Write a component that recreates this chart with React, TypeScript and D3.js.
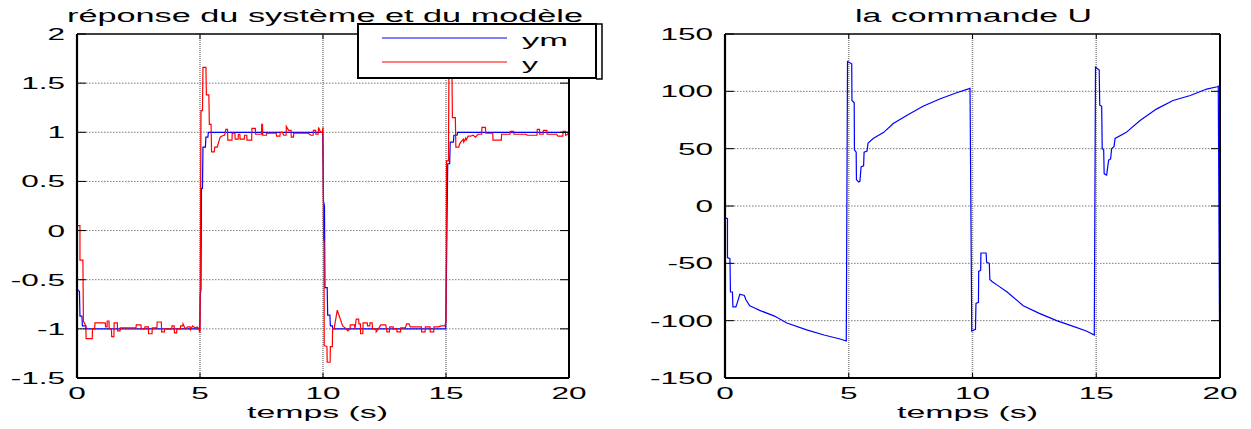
import { useEffect, useRef } from 'react'
import * as d3 from 'd3'

const W = 1251
const H = 429

const xTicks = [0, 5, 10, 15, 20]
const xTickLabels = ['0', '5', '10', '15', '20']
const respTicks = [2, 1.5, 1, 0.5, 0, -0.5, -1, -1.5]
const respTickLabels = ['2', '1.5', '1', '0.5', '0', '-0.5', '-1', '-1.5']
const cmdTicks = [150, 100, 50, 0, -50, -100, -150]
const cmdTickLabels = ['150', '100', '50', '0', '-50', '-100', '-150']
const legendLabels = ['ym', 'y']

// model output ym (t, value)
const ymData: [number, number][] = [
  [0, 0], [0.01, -0.6], [0.1, -0.62], [0.12, -0.87], [0.2, -0.87], [0.22, -0.97], [0.35, -0.97], [0.37, -1],
  [4.99, -1], [5.01, -0.65], [5.04, -0.6], [5.06, 0.43], [5.1, 0.43], [5.12, 0.85], [5.22, 0.85], [5.24, 0.95],
  [5.32, 0.95], [5.34, 1], [9.99, 1], [10.02, 0.3], [10.06, 0.25], [10.08, -0.58], [10.17, -0.58], [10.19, -0.86],
  [10.28, -0.86], [10.3, -0.97], [10.38, -0.97], [10.4, -1], [14.99, -1], [15.01, -0.6], [15.04, 0.05],
  [15.07, 0.68], [15.15, 0.68], [15.17, 0.9], [15.3, 0.9], [15.32, 0.97], [15.45, 0.97], [15.47, 1], [20, 1]
]

// system output y (t, value)
const yData: [number, number][] = [
  [0, 0.05], [0.12, 0.05], [0.12, -0.3], [0.24, -0.3], [0.26, -0.92], [0.36, -0.97], [0.37, -1.1], [0.62, -1.1],
  [0.63, -1.0], [0.72, -1.0], [0.73, -0.94], [1.15, -0.94], [1.16, -0.98], [1.22, -0.98], [1.23, -0.92], [1.3, -0.92],
  [1.31, -1.0], [1.4, -1.0], [1.41, -1.08], [1.5, -1.08], [1.51, -0.94], [1.64, -0.94], [1.65, -1.02], [1.75, -1.02],
  [1.76, -0.99], [2.4, -0.99], [2.41, -0.96], [2.6, -0.96], [2.61, -1.0], [2.75, -1.0], [2.76, -0.98], [2.9, -0.98],
  [2.91, -1.05], [3.05, -1.05], [3.06, -0.99], [3.25, -0.99], [3.26, -0.93], [3.43, -0.93], [3.44, -1.03], [3.55, -1.03],
  [3.56, -1.0], [3.85, -1.0], [3.86, -0.97], [3.95, -0.97], [3.96, -1.04], [4.05, -1.04], [4.06, -1.0], [4.2, -1.0],
  [4.21, -0.97], [4.3, -0.97], [4.31, -0.95], [4.4, -1.0], [4.5, -0.98], [4.6, -0.98], [4.61, -1.01], [4.7, -0.97],
  [4.8, -0.99], [4.9, -0.98], [4.95, -1.0], [5.0, -1.04],
  [5.02, 0.0], [5.04, 1.22], [5.1, 1.22], [5.12, 1.66], [5.24, 1.66], [5.26, 1.38], [5.36, 1.38], [5.38, 1.08],
  [5.45, 1.08], [5.47, 0.8], [5.58, 0.8], [5.6, 0.85], [5.7, 0.85], [5.82, 0.95], [5.95, 0.97], [6.0, 0.97],
  [6.05, 1.03], [6.12, 1.03], [6.13, 0.92], [6.3, 0.92], [6.31, 0.99], [6.42, 0.99], [6.43, 0.93], [6.55, 0.93],
  [6.56, 0.98], [6.62, 0.98], [6.63, 0.93], [6.8, 0.93], [6.81, 0.97], [6.9, 0.97], [6.91, 0.92], [7.1, 0.92],
  [7.11, 1.04], [7.25, 1.04], [7.26, 0.98], [7.5, 0.98], [7.51, 1.08], [7.54, 1.08], [7.55, 0.97], [7.7, 0.97],
  [7.71, 0.99], [8.1, 0.99], [8.11, 0.96], [8.25, 0.96], [8.26, 1.0], [8.35, 1.0], [8.4, 0.97], [8.5, 0.97],
  [8.51, 1.06], [8.6, 1.02], [8.7, 1.02], [8.71, 0.95], [8.8, 0.95], [8.81, 0.99], [9.4, 0.99], [9.5, 0.97],
  [9.6, 0.97], [9.61, 1.02], [9.7, 1.02], [9.71, 0.98], [9.8, 0.98], [9.82, 1.05], [9.9, 1.0], [9.97, 1.0], [10.0, 1.05],
  [10.02, -0.08], [10.04, -0.12], [10.05, -1.17], [10.16, -1.18], [10.17, -1.34], [10.29, -1.34], [10.3, -1.18],
  [10.38, -1.18], [10.39, -1.0], [10.45, -1.0], [10.58, -0.81], [10.8, -0.97], [10.95, -1.0], [11.0, -1.02],
  [11.1, -1.0], [11.11, -0.96], [11.28, -0.96], [11.3, -1.0], [11.35, -0.9], [11.45, -0.9], [11.46, -0.95],
  [11.52, -0.95], [11.53, -1.05], [11.62, -1.05], [11.63, -0.94], [11.8, -0.94], [11.81, -0.97], [11.9, -0.97],
  [11.91, -0.94], [12.0, -0.94], [12.01, -1.0], [12.15, -1.0], [12.16, -1.03], [12.25, -1.0], [12.35, -0.96],
  [12.55, -0.96], [12.6, -1.03], [12.7, -1.03], [12.71, -0.98], [12.85, -0.98], [12.86, -1.0], [13.0, -1.0],
  [13.01, -1.03], [13.15, -1.03], [13.16, -0.99], [13.35, -0.99], [13.4, -0.95], [13.5, -0.95], [13.55, -0.98],
  [14.0, -0.98], [14.01, -1.03], [14.15, -1.03], [14.16, -0.98], [14.35, -0.98], [14.36, -1.03], [14.5, -1.03],
  [14.51, -0.98], [14.7, -0.98], [14.8, -0.97], [14.95, -0.97], [15.0, -0.93],
  [15.02, 0.71], [15.1, 0.71], [15.12, 1.66], [15.24, 1.66], [15.26, 1.15], [15.38, 1.15], [15.4, 0.85],
  [15.52, 0.85], [15.55, 0.88], [15.6, 0.9], [15.7, 0.93], [15.72, 0.9], [15.8, 0.94], [15.82, 0.92], [15.9, 0.96],
  [16.0, 0.96], [16.1, 0.97], [16.2, 0.95], [16.3, 0.98], [16.45, 0.98], [16.46, 1.05], [16.6, 1.05], [16.62, 0.99],
  [16.9, 0.99], [16.91, 0.92], [17.25, 0.92], [17.26, 0.98], [17.6, 0.98], [17.61, 1.01], [17.75, 1.01],
  [17.76, 0.98], [18.25, 0.98], [18.3, 0.97], [18.7, 0.97], [18.71, 1.03], [18.8, 1.03], [18.81, 0.98],
  [18.95, 0.98], [18.96, 1.02], [19.1, 1.02], [19.11, 0.98], [19.5, 0.98], [19.55, 0.96], [19.75, 0.96],
  [19.76, 1.01], [19.85, 1.01], [19.86, 0.97], [19.95, 0.98], [20, 1.02]
]

// control signal U (t, value)
const uData: [number, number][] = [
  [0, -10], [0.1, -11], [0.1, -45], [0.2, -46], [0.22, -75], [0.3, -75], [0.32, -88], [0.44, -88], [0.5, -84],
  [0.6, -77], [0.78, -78], [0.85, -82], [1.0, -87], [1.2, -89], [1.4, -91], [2.0, -96], [2.5, -102], [3.3, -108],
  [4.0, -112.5], [4.65, -116], [4.9, -117.7],
  [4.95, 126], [5.12, 124], [5.13, 92], [5.22, 90], [5.23, 49], [5.3, 47], [5.31, 23], [5.4, 21], [5.45, 21.5],
  [5.5, 34], [5.6, 35], [5.62, 47], [5.74, 48], [5.78, 55], [6.0, 59], [6.4, 64], [6.8, 72], [7.34, 79], [8.0, 87],
  [8.7, 93.5], [9.36, 98.8], [9.9, 102.6],
  [9.97, -109], [10.12, -107.5], [10.14, -85], [10.24, -84], [10.25, -57], [10.33, -56], [10.34, -41], [10.55, -41],
  [10.57, -49], [10.68, -50], [10.7, -64], [10.8, -66], [11.0, -69], [11.4, -75], [12.05, -87], [12.7, -93.6],
  [13.4, -100], [14.1, -105.2], [14.6, -109], [14.92, -112.5],
  [14.97, 121], [15.12, 118.5], [15.14, 88], [15.22, 87], [15.24, 50], [15.3, 49], [15.32, 28], [15.42, 27],
  [15.5, 40], [15.58, 41], [15.62, 50], [15.72, 52], [15.76, 59], [16.2, 64], [16.77, 74.5], [17.43, 84.5],
  [18.1, 92], [18.8, 96.4], [19.46, 102], [19.89, 104], [19.93, 104.5], [19.98, -101], [20, -100]
]

const FONT = 'Liberation Sans, Arial, Helvetica, sans-serif'
const STRETCH = 1.97

export default function App() {
  const ref = useRef<SVGSVGElement>(null)

  useEffect(() => {
    draw()
  }, [])

  const draw = () => {
    const svg = d3.select(ref.current)
    svg.selectAll('*').remove()

    const panel = (o: {
      left: number, right: number, top: number, bottom: number,
      yDomain: [number, number], yTicks: number[], yLabels: string[],
      series: { data: [number, number][], color: string }[],
      title: string, titleX: number, titleW: number, xlabelX: number
    }) => {
      const x = d3.scaleLinear().domain([0, 20]).range([o.left, o.right])
      const y = d3.scaleLinear().domain(o.yDomain).range([o.bottom, o.top])
      const g = svg.append('g')

      // grid
      g.selectAll('.hgrid')
        .data(o.yTicks.filter(v => v !== o.yDomain[0] && v !== o.yDomain[1]))
        .join('line')
        .attr('x1', o.left).attr('x2', o.right)
        .attr('y1', d => y(d)).attr('y2', d => y(d))
        .attr('stroke', '#7a7a7a').attr('stroke-width', 1).attr('stroke-dasharray', '1.5,1.5')
      g.selectAll('.vgrid')
        .data(xTicks.filter(v => v !== 0 && v !== 20))
        .join('line')
        .attr('y1', o.top).attr('y2', o.bottom)
        .attr('x1', d => x(d)).attr('x2', d => x(d))
        .attr('stroke', '#8c8c8c').attr('stroke-width', 1.6).attr('stroke-dasharray', '1,1')

      // lines
      const line = d3.line<[number, number]>().x(d => x(d[0])).y(d => y(d[1]))
      o.series.forEach(s => {
        g.append('path').attr('d', line(s.data)).attr('fill', 'none')
          .attr('stroke', s.color).attr('stroke-width', 1.2)
      })

      // axes box
      g.append('line').attr('x1', o.left).attr('x2', o.right).attr('y1', o.top).attr('y2', o.top)
        .attr('stroke', '#000').attr('stroke-width', 1.5)
      g.append('line').attr('x1', o.left).attr('x2', o.right).attr('y1', o.bottom).attr('y2', o.bottom)
        .attr('stroke', '#000').attr('stroke-width', 2)
      g.append('line').attr('x1', o.left).attr('x2', o.left).attr('y1', o.top).attr('y2', o.bottom)
        .attr('stroke', '#000').attr('stroke-width', 2.2)
      g.append('line').attr('x1', o.right).attr('x2', o.right).attr('y1', o.top).attr('y2', o.bottom)
        .attr('stroke', '#000').attr('stroke-width', 2)

      // ticks
      o.yTicks.forEach(v => {
        g.append('line').attr('x1', o.left).attr('x2', o.left + 9).attr('y1', y(v)).attr('y2', y(v))
          .attr('stroke', '#000').attr('stroke-width', 1)
        g.append('line').attr('x1', o.right - 9).attr('x2', o.right).attr('y1', y(v)).attr('y2', y(v))
          .attr('stroke', '#000').attr('stroke-width', 1)
      })
      xTicks.forEach(v => {
        g.append('line').attr('x1', x(v)).attr('x2', x(v)).attr('y1', o.bottom).attr('y2', o.bottom - 5)
          .attr('stroke', '#000').attr('stroke-width', 1)
        g.append('line').attr('x1', x(v)).attr('x2', x(v)).attr('y1', o.top).attr('y2', o.top + 5)
          .attr('stroke', '#000').attr('stroke-width', 1)
      })

      // tick labels
      o.yTicks.forEach((v, i) => {
        g.append('text')
          .attr('transform', `translate(${o.left - 12},${y(v) + 6}) scale(${STRETCH},1)`)
          .attr('text-anchor', 'end')
          .attr('font-family', FONT).attr('font-size', 16).attr('fill', '#000')
          .text(o.yLabels[i])
      })
      xTicks.forEach((v, i) => {
        g.append('text')
          .attr('transform', `translate(${x(v)},${o.bottom + 21}) scale(${STRETCH},1)`)
          .attr('text-anchor', 'middle')
          .attr('font-family', FONT).attr('font-size', 16).attr('fill', '#000')
          .text(xTickLabels[i])
      })

      // title & xlabel
      g.append('text').attr('x', o.titleX).attr('y', 22)
        .attr('textLength', o.titleW).attr('lengthAdjust', 'spacingAndGlyphs')
        .attr('font-family', FONT).attr('font-size', 18).attr('fill', '#000')
        .text(o.title)
      g.append('text').attr('x', o.xlabelX).attr('y', 418)
        .attr('textLength', 141).attr('lengthAdjust', 'spacingAndGlyphs')
        .attr('font-family', FONT).attr('font-size', 16).attr('fill', '#000')
        .text('temps (s)')
      return g
    }

    panel({
      left: 77, right: 569, top: 34, bottom: 378,
      yDomain: [-1.5, 2], yTicks: respTicks, yLabels: respTickLabels,
      series: [{ data: ymData, color: '#0000ff' }, { data: yData, color: '#ff0000' }],
      title: 'réponse du système et du modèle', titleX: 67, titleW: 516, xlabelX: 247
    })

    panel({
      left: 725, right: 1220, top: 34, bottom: 378,
      yDomain: [-150, 150], yTicks: cmdTicks, yLabels: cmdTickLabels,
      series: [{ data: uData, color: '#0000ff' }],
      title: 'la commande U', titleX: 855, titleW: 237, xlabelX: 897
    })

    // legend
    const lg = svg.append('g')
    lg.append('rect').attr('x', 358).attr('y', 24).attr('width', 238).attr('height', 54)
      .attr('fill', '#fff').attr('stroke', '#000').attr('stroke-width', 2)
    lg.append('path').attr('d', 'M596,24 H602 V79 H596').attr('fill', 'none')
      .attr('stroke', '#000').attr('stroke-width', 1.5)
    const colors = ['#0000ff', '#ff0000']
    const rowY = [38, 62]
    const textW = [46, 16]
    legendLabels.forEach((l, i) => {
      lg.append('line').attr('x1', 382).attr('x2', 507).attr('y1', rowY[i]).attr('y2', rowY[i])
        .attr('stroke', colors[i]).attr('stroke-width', 1.2)
      lg.append('text').attr('x', 522).attr('y', rowY[i] + 8)
        .attr('textLength', textW[i]).attr('lengthAdjust', 'spacingAndGlyphs')
        .attr('font-family', FONT).attr('font-size', 16).attr('fill', '#000')
        .text(l)
    })
  }

  return (
    <svg ref={ref} width={W} height={H}
      style={{ position: 'absolute', left: 0, top: 0, background: '#fff' }} />
  )
}
